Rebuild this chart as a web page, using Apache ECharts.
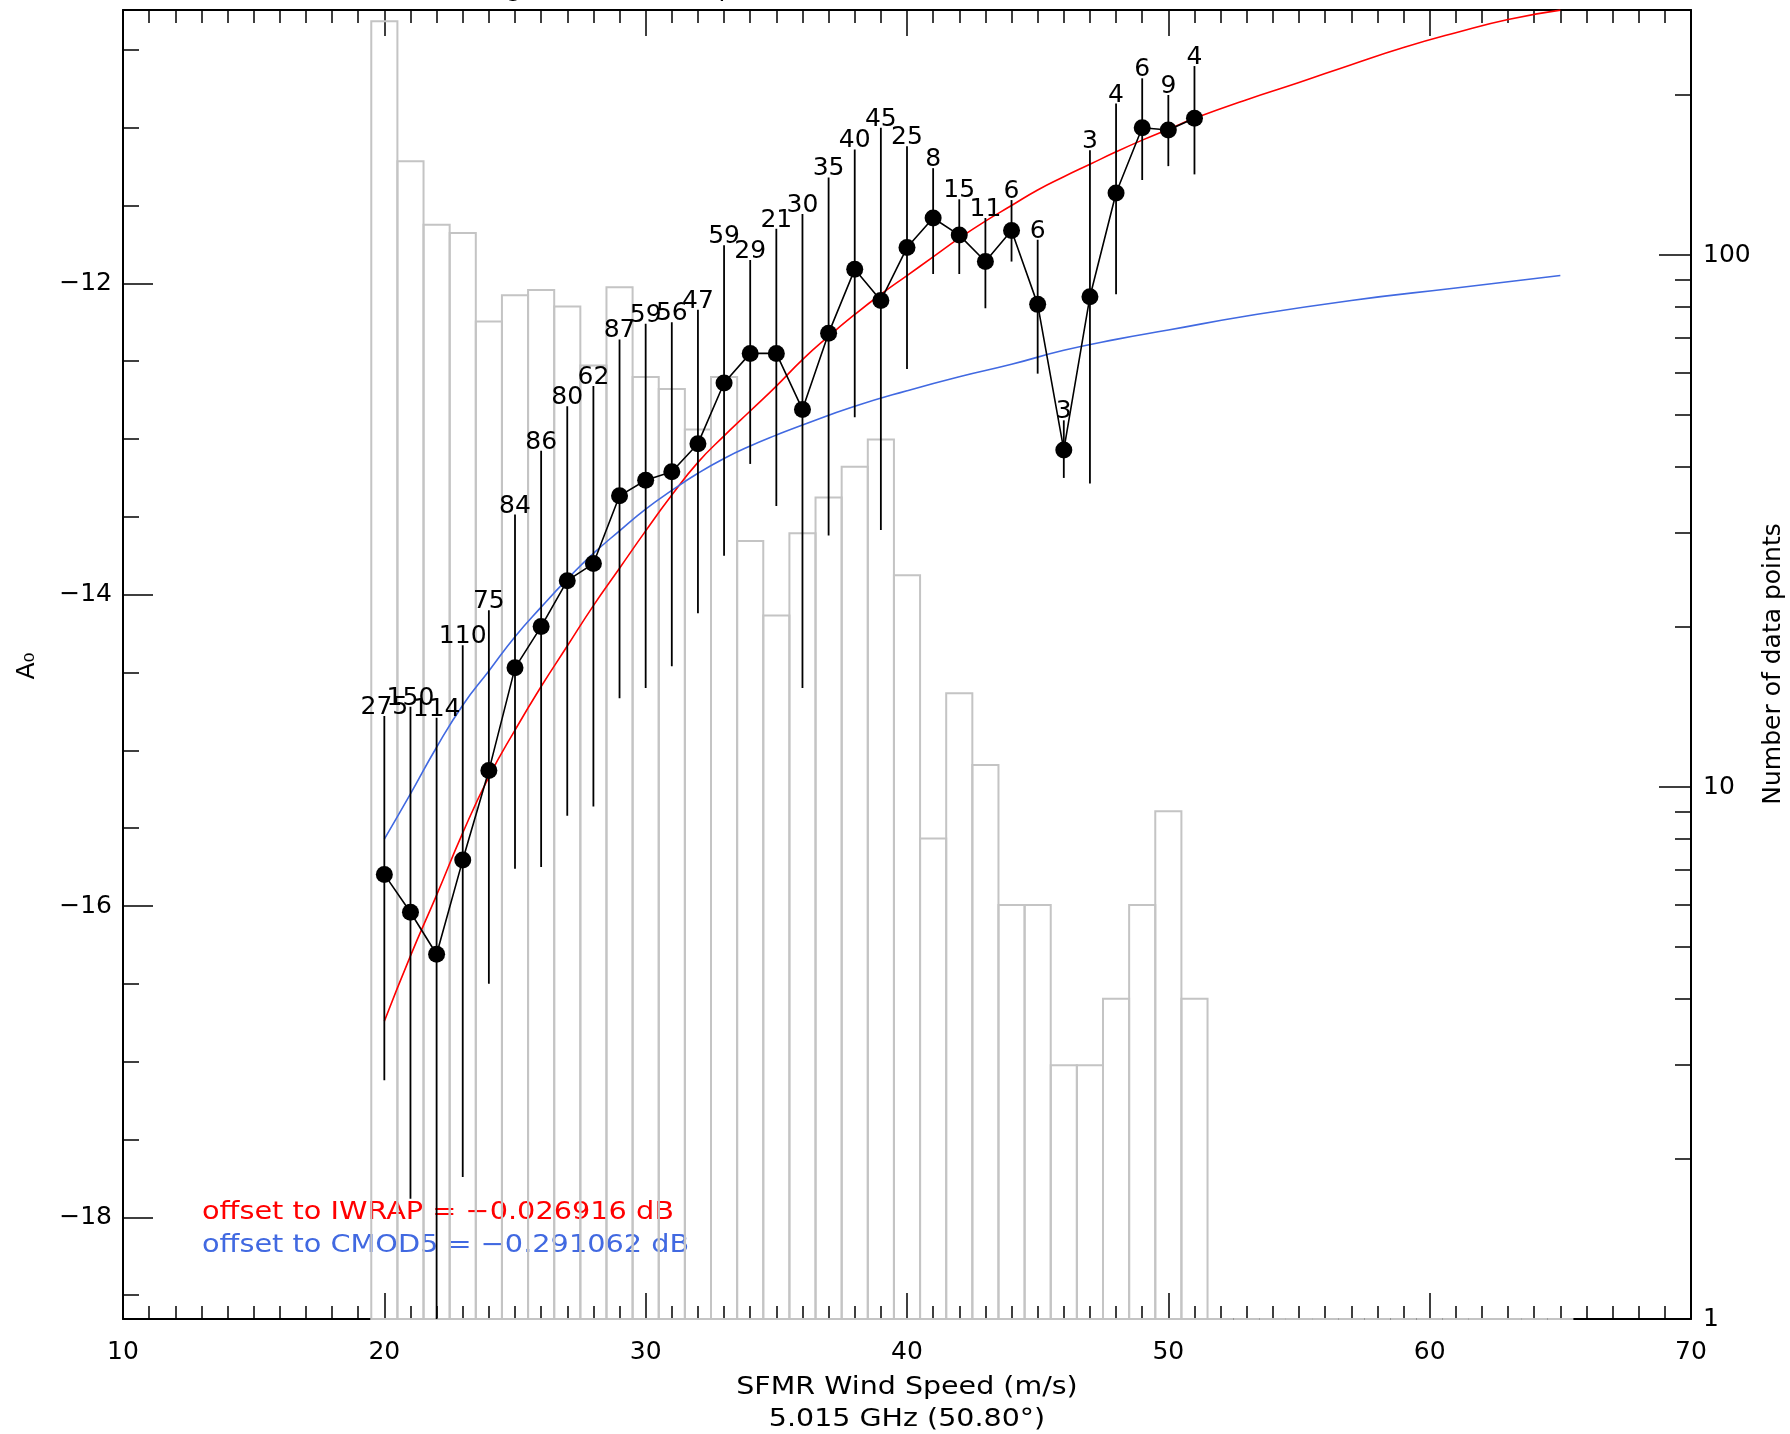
<!DOCTYPE html>
<html><head><meta charset="utf-8">
<script src="https://cdn.jsdelivr.net/npm/echarts@6/dist/echarts.min.js"></script>
<style>html,body{margin:0;padding:0;background:#fff}#c{width:1790px;height:1434px}</style>
</head><body><div id="c"></div>
<script>
// ---- data ----
const windSpeed = [20,21,22,23,24,25,26,27,28,29,30,31,32,33,34,35,36,37,38,39,40,41,42,43,44,45,46,47,48,49,50,51];
const countN    = [275,150,114,110,75,84,86,80,62,87,59,56,47,59,29,21,30,35,40,45,25,8,15,11,6,6,3,3,4,6,9,4];
const emptyBins = [52,53,54,55,56,57,58,59,60,61,62,63,64,65];
const meanA0  = [-15.797,-16.04,-16.31,-15.705,-15.13,-14.47,-14.205,-13.91,-13.80,-13.365,-13.265,-13.21,-13.03,-12.64,-12.45,-12.45,-12.81,-12.32,-11.91,-12.11,-11.77,-11.58,-11.69,-11.86,-11.66,-12.135,-13.07,-12.086,-11.42,-11.00,-11.015,-10.94];
const upperA0 = [-14.78,-14.72,-14.79,-14.325,-14.10,-13.485,-13.075,-12.79,-12.66,-12.36,-12.26,-12.25,-12.17,-11.755,-11.85,-11.65,-11.555,-11.32,-11.14,-11.00,-11.12,-11.26,-11.46,-11.58,-11.465,-11.72,-12.88,-11.145,-10.845,-10.683,-10.79,-10.604];
const lowerA0 = [-17.12,-17.88,-19.0,-17.74,-16.50,-15.76,-15.75,-15.42,-15.36,-14.665,-14.60,-14.46,-14.12,-13.75,-13.16,-13.43,-14.60,-13.62,-12.86,-13.585,-12.55,-11.94,-11.94,-12.16,-11.86,-12.58,-13.25,-13.285,-12.07,-11.336,-11.247,-11.30];
const iwrapX  = [20,21,22,23,24,25,26,27,28,29,30,31,32,33,34,35,36,37,38,39,40,41,42,43,44,45,46,47,48,49,50,51,53,55,57,59,61,63,65];
const iwrapA0 = [-16.74,-16.32,-15.93,-15.53,-15.17,-14.87,-14.59,-14.33,-14.07,-13.83,-13.59,-13.36,-13.15,-12.98,-12.82,-12.66,-12.49,-12.34,-12.20,-12.07,-11.95,-11.83,-11.71,-11.60,-11.50,-11.40,-11.315,-11.235,-11.155,-11.08,-11.01,-10.94,-10.82,-10.71,-10.595,-10.485,-10.39,-10.305,-10.245];
const cmod5X  = [20,21,22,23,24,25,26,27,28,29,30,31,32,33,34,35,36,38,40,42,44,46,48,50,53,57,61,65];
const cmod5A0 = [-15.57,-15.28,-14.98,-14.71,-14.49,-14.27,-14.08,-13.90,-13.735,-13.59,-13.45,-13.33,-13.22,-13.125,-13.045,-12.975,-12.91,-12.79,-12.69,-12.60,-12.52,-12.43,-12.36,-12.30,-12.21,-12.11,-12.03,-11.95];
const leftMajorTicks  = [-18,-16,-14,-12];
const leftMinorTicks  = [-18.5,-17.5,-17,-16.5,-15.5,-15,-14.5,-13.5,-13,-12.5,-11.5,-11,-10.5];
const rightMajorTicks = [1,10,100];
const rightMinorTicks = [2,3,4,5,6,7,8,9,20,30,40,50,60,70,80,90,200];
const offsetIWRAP = '−0.026916';
const offsetCMOD5 = '−0.291062';

const Y_MIN = -18.653, Y_MAX = -10.244;
const N_MIN = 1, N_MAX = 288.8;
const FONT = 'DejaVu Sans';
const fmtNeg = v => (v < 0 ? '−' + Math.abs(v) : String(v));

const chart = echarts.init(document.getElementById('c'), null, {renderer: 'canvas'});

const xCommon = {
  type: 'value', min: 10, max: 70, interval: 10,
  axisLine: {show: true, onZero: false, lineStyle: {color: '#000', width: 2}},
  axisTick: {show: true, inside: true, length: 26, lineStyle: {color: '#000', width: 1.5}},
  minorTick: {show: true, splitNumber: 10, length: 13, lineStyle: {color: '#000', width: 1.5}},
  splitLine: {show: false}, minorSplitLine: {show: false}
};

const option = {
  animation: false,
  backgroundColor: '#fff',
  textStyle: {fontFamily: FONT},
  grid: {left: 123, right: 99, top: 10, bottom: 115, containLabel: false},
  xAxis: [
    Object.assign({}, xCommon, {
      position: 'bottom',
      axisLabel: {show: true, margin: 21, fontSize: 25, color: '#000', fontFamily: FONT}
    }),
    Object.assign({}, xCommon, {position: 'top', axisLabel: {show: false}})
  ],
  yAxis: [
    {
      type: 'value', min: Y_MIN, max: Y_MAX, position: 'left',
      axisLine: {show: true, onZero: false, lineStyle: {color: '#000', width: 2}},
      axisTick: {show: true, inside: true, length: 30, customValues: leftMajorTicks, lineStyle: {color: '#000', width: 1.5}},
      axisLabel: {show: true, customValues: leftMajorTicks, margin: 11, fontSize: 25, color: '#000', fontFamily: FONT, formatter: fmtNeg},
      splitLine: {show: false}
    },
    {
      type: 'value', min: Y_MIN, max: Y_MAX, position: 'left', offset: 0,
      axisLine: {show: false},
      axisTick: {show: true, inside: true, length: 16, customValues: leftMinorTicks, lineStyle: {color: '#000', width: 1.5}},
      axisLabel: {show: false}, splitLine: {show: false}
    },
    {
      type: 'log', logBase: 10, min: N_MIN, max: N_MAX, position: 'right',
      axisLine: {show: true, onZero: false, lineStyle: {color: '#000', width: 2}},
      axisTick: {show: true, inside: true, length: 32, customValues: rightMajorTicks, lineStyle: {color: '#000', width: 1.5}},
      axisLabel: {show: true, customValues: rightMajorTicks, margin: 12, fontSize: 25, color: '#000', fontFamily: FONT, formatter: v => String(Math.round(v))},
      splitLine: {show: false}
    },
    {
      type: 'log', logBase: 10, min: N_MIN, max: N_MAX, position: 'right', offset: 0,
      axisLine: {show: false},
      axisTick: {show: true, inside: true, length: 16, customValues: rightMinorTicks, lineStyle: {color: '#000', width: 1.5}},
      axisLabel: {show: false}, splitLine: {show: false}
    }
  ],
  graphic: [
    {type: 'text', left: 444, top: -23, silent: true,
     style: {text: 'Fitting with the mean product (dB)', font: '25px "DejaVu Sans"', fill: '#000'}},
    {type: 'text', x: 27, y: 666, rotation: Math.PI / 2, silent: true,
     style: {text: 'A₀', font: '25px "DejaVu Sans"', fill: '#000', align: 'center', verticalAlign: 'middle'}},
    {type: 'text', x: 1773, y: 664, rotation: Math.PI / 2, silent: true,
     style: {text: 'Number of data points', font: '25px "DejaVu Sans"', fill: '#000', align: 'center', verticalAlign: 'middle'}},
    {type: 'text', x: 907, y: 1387, scaleX: 1.14, silent: true,
     style: {text: 'SFMR Wind Speed (m/s)', font: '25px "DejaVu Sans"', fill: '#000', align: 'center', verticalAlign: 'middle'}},
    {type: 'text', x: 907, y: 1419, scaleX: 1.14, silent: true,
     style: {text: '5.015 GHz (50.80°)', font: '25px "DejaVu Sans"', fill: '#000', align: 'center', verticalAlign: 'middle'}},
    {type: 'text', x: 202, y: 1212, scaleX: 1.15, silent: true,
     style: {text: 'offset to IWRAP = ' + offsetIWRAP + ' dB', font: '25px "DejaVu Sans"', fill: '#ff0000', align: 'left', verticalAlign: 'middle'}},
    {type: 'text', x: 202, y: 1245, scaleX: 1.15, silent: true,
     style: {text: 'offset to CMOD5 = ' + offsetCMOD5 + ' dB', font: '25px "DejaVu Sans"', fill: '#4169e1', align: 'left', verticalAlign: 'middle'}}
  ],
  series: [
    {
      name: 'histogram', type: 'custom', xAxisIndex: 0, yAxisIndex: 2, z: 1,
      data: windSpeed.map((x, i) => [x, countN[i]]).concat(emptyBins.map(x => [x, 0])),
      renderItem: function (params, api) {
        const x = api.value(0);
        const c = Math.max(api.value(1), N_MIN);
        const p0 = api.coord([x - 0.5, c]);
        const p1 = api.coord([x + 0.5, N_MIN]);
        return {type: 'rect', shape: {x: p0[0], y: p0[1], width: p1[0] - p0[0], height: p1[1] - p0[1]},
                style: {fill: 'none', stroke: '#c4c4c4', lineWidth: 2}};
      }
    },
    {
      name: 'IWRAP', type: 'line', xAxisIndex: 0, yAxisIndex: 0, z: 3,
      data: iwrapX.map((x, i) => [x, iwrapA0[i]]),
      showSymbol: false, smooth: 0.5, lineStyle: {color: '#ff0000', width: 1.6}
    },
    {
      name: 'CMOD5', type: 'line', xAxisIndex: 0, yAxisIndex: 0, z: 3,
      data: cmod5X.map((x, i) => [x, cmod5A0[i]]),
      showSymbol: false, smooth: 0.5, lineStyle: {color: '#4169e1', width: 1.6}
    },
    {
      name: 'error', type: 'custom', xAxisIndex: 0, yAxisIndex: 0, z: 4,
      data: windSpeed.map((x, i) => [x, lowerA0[i], upperA0[i], countN[i]]),
      renderItem: function (params, api) {
        const x = api.value(0);
        const lo = Math.max(api.value(1), Y_MIN);
        const hi = api.value(2);
        const pl = api.coord([x, lo]);
        const ph = api.coord([x, hi]);
        return {type: 'group', children: [
          {type: 'line', shape: {x1: pl[0], y1: pl[1], x2: ph[0], y2: ph[1]}, style: {stroke: '#000', lineWidth: 1.8}},
          {type: 'text', x: ph[0], y: ph[1] + 4,
           style: {text: String(api.value(3)), fontSize: 25, fontFamily: FONT, fill: '#000', align: 'center', verticalAlign: 'bottom'}}
        ]};
      }
    },
    {
      name: 'mean A0', type: 'line', xAxisIndex: 0, yAxisIndex: 0, z: 5,
      data: windSpeed.map((x, i) => [x, meanA0[i]]),
      symbol: 'circle', symbolSize: 17, showSymbol: true,
      itemStyle: {color: '#000'}, lineStyle: {color: '#000', width: 1.6}
    }
  ]
};
chart.setOption(option);
</script></body></html>
